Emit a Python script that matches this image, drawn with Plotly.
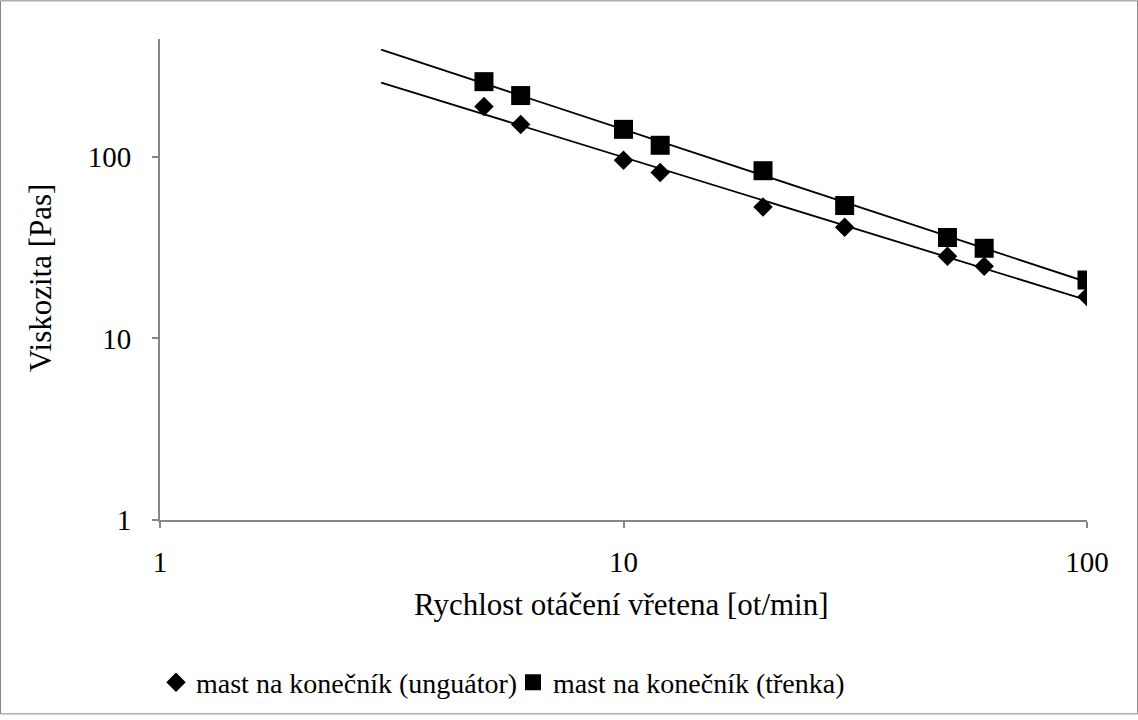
import numpy as np
import plotly.graph_objects as go

speed = [5, 6, 10, 12, 20, 30, 50, 60, 100]
visc_unguator = [190, 151, 96, 82, 53, 41, 28.4, 25, 17]
visc_trenka = [260, 218, 142, 116, 84, 54, 36, 31.4, 21]
name_unguator = "mast na konečník (unguátor)"
name_trenka = "mast na konečník (třenka)"
trend_x = [3, 100]
tick_vals = [1, 10, 100]
tick_text = ["1", "10", "100"]
x_title = "Rychlost otáčení vřetena [ot/min]"
y_title = "Viskozita [Pas]"

FONT = "Liberation Serif, Times New Roman, serif"
PL, PT, PW, PH = 160, 39, 927, 485

def power_fit(x, y, xs):
    b, a = np.polyfit(np.log10(x), np.log10(y), 1)
    xs = np.array(xs, dtype=float)
    return xs, 10 ** (a + b * np.log10(xs))

fig = go.Figure()
for ys in (visc_unguator, visc_trenka):
    tx, ty = power_fit(speed, ys, trend_x)
    fig.add_trace(go.Scatter(x=tx, y=ty, mode="lines", showlegend=False,
                             line=dict(color="black", width=1.8), hoverinfo="skip"))

fig.add_trace(go.Scatter(x=speed, y=visc_unguator, mode="markers", name=name_unguator,
                         marker=dict(symbol="diamond", size=15, color="black")))
fig.add_trace(go.Scatter(x=speed, y=visc_trenka, mode="markers", name=name_trenka,
                         marker=dict(symbol="square", size=19, color="black")))

axis_common = dict(type="log", showgrid=False, zeroline=False, showline=True,
                   linecolor="#868686", linewidth=2, ticks="outside", ticklen=6,
                   tickcolor="#868686", tickwidth=1.5,
                   tickvals=tick_vals, ticktext=tick_text,
                   tickfont=dict(family=FONT, size=29, color="black"))

def px2x(px):
    return (px - PL) / PW

def py2y(py):
    return (PT + PH - py) / PH

fig.update_layout(
    width=1138, height=720,
    margin=dict(l=PL, r=1138 - PL - PW, t=PT, b=720 - PT - PH),
    paper_bgcolor="white", plot_bgcolor="white",
    font=dict(family=FONT, size=29, color="black"),
    xaxis=dict(range=[0, 2], ticklabelstandoff=9, **axis_common),
    yaxis=dict(range=[0, 2.65], ticklabelstandoff=15, **axis_common),
    legend=dict(orientation="h", x=px2x(156), y=py2y(688), xanchor="left", yanchor="middle",
                font=dict(family=FONT, size=28, color="black"), itemwidth=30,
                entrywidthmode="pixels", entrywidth=312, bgcolor="rgba(0,0,0,0)"),
    showlegend=True,
    annotations=[
        dict(text=x_title, xref="paper", yref="paper", x=px2x(621), y=py2y(609),
             xanchor="center", yanchor="middle", showarrow=False,
             font=dict(family=FONT, size=31, color="black")),
        dict(text=y_title, xref="paper", yref="paper", x=px2x(40), y=py2y(280),
             xanchor="center", yanchor="middle", showarrow=False, textangle=-90,
             font=dict(family=FONT, size=31, color="black")),
    ],
    shapes=[dict(type="rect", xref="paper", yref="paper",
                 x0=px2x(0.5), x1=px2x(1137.5), y0=py2y(719.5), y1=py2y(0.5),
                 line=dict(color="#868686", width=1), fillcolor="rgba(0,0,0,0)")],
)

fig.write_html("out.html")
